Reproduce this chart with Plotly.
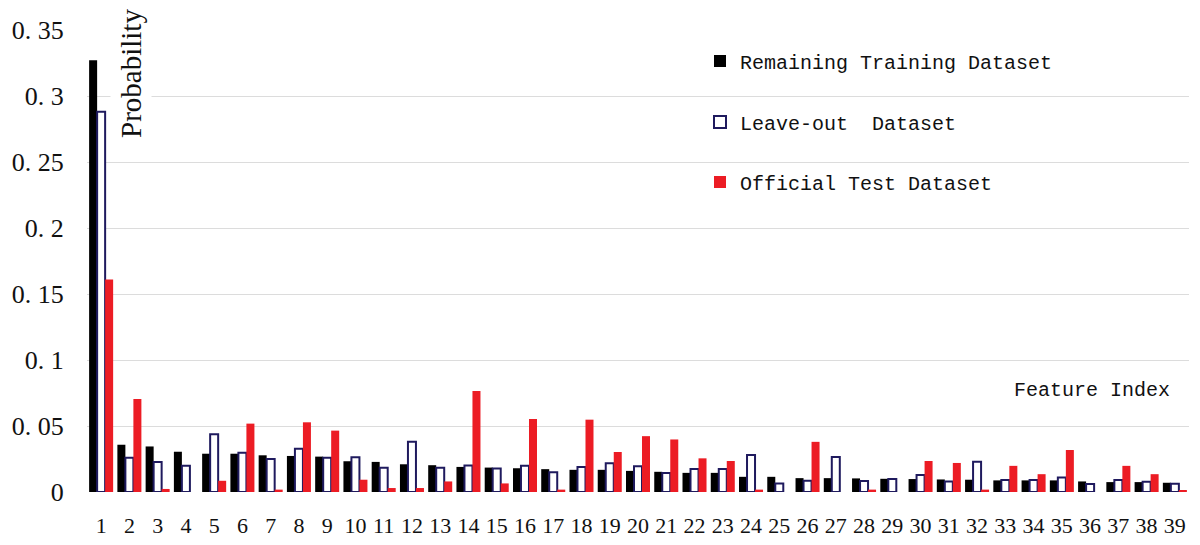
import plotly.graph_objects as go

features = [str(i) for i in range(1, 40)]

remaining_training = [0.327, 0.0358, 0.0345, 0.0305, 0.029, 0.029, 0.0278, 0.0273, 0.0268, 0.0233,
                      0.0228, 0.021, 0.0203, 0.019, 0.0185, 0.018, 0.0173, 0.0168, 0.0168, 0.016,
                      0.0153, 0.0145, 0.0145, 0.0115, 0.0115, 0.0105, 0.0105, 0.0103, 0.010, 0.0098,
                      0.0095, 0.0093, 0.0088, 0.0088, 0.0088, 0.008, 0.0075, 0.0075, 0.007]
leave_out = [0.288, 0.026, 0.0228, 0.0198, 0.0438, 0.0298, 0.025, 0.0328, 0.026, 0.0263,
             0.0183, 0.038, 0.0183, 0.020, 0.0178, 0.0198, 0.015, 0.019, 0.0218, 0.0195,
             0.0143, 0.0175, 0.0175, 0.028, 0.0065, 0.0085, 0.0265, 0.0083, 0.0098, 0.0128,
             0.008, 0.023, 0.009, 0.009, 0.011, 0.006, 0.009, 0.0078, 0.0063]
official_test = [0.161, 0.0705, 0.0023, 0.0, 0.0085, 0.0518, 0.0018, 0.0528, 0.0465, 0.0093,
                 0.003, 0.003, 0.008, 0.0765, 0.0065, 0.0553, 0.0018, 0.0548, 0.0303, 0.0423,
                 0.0398, 0.0255, 0.0235, 0.0018, 0.0, 0.038, 0.0, 0.0018, 0.0, 0.0235,
                 0.022, 0.0018, 0.0198, 0.0135, 0.0318, 0.0, 0.0198, 0.0135, 0.0015]

y_tickvals = [0, 0.05, 0.1, 0.15, 0.2, 0.25, 0.3, 0.35]
y_ticktext = ["0", "0. 05", "0. 1", "0. 15", "0. 2", "0. 25", "0. 3", "0. 35"]

# page offset of the figure div (body margin)
OFF = 8
W, H = 1200 - OFF, 545 - OFF
PL, PR, PT, PB = 87, 1189, 30, 492          # plot area in page pixels
L, R, T, B = PL - OFF, 1200 - PR, PT - OFF, 545 - PB
pw, ph = PR - PL, PB - PT


def px(x):
    return (x - PL) / pw


def py(y):
    return (PB - y) / ph


fig = go.Figure()
fig.add_trace(go.Bar(x=features, y=remaining_training, name="Remaining Training Dataset",
                     marker=dict(color="#000000", line=dict(width=0)), legend="legend"))
fig.add_trace(go.Bar(x=features, y=leave_out, name="Leave-out  Dataset",
                     marker=dict(color="#ffffff", line=dict(color="#1f1a5e", width=2)),
                     legend="legend2"))
fig.add_trace(go.Bar(x=features, y=official_test, name="Official Test Dataset",
                     marker=dict(color="#ec1c24", line=dict(width=0)), legend="legend3"))

legend_common = dict(xref="paper", yref="paper", xanchor="left", yanchor="middle",
                     bgcolor="rgba(0,0,0,0)", borderwidth=0,
                     font=dict(family="Liberation Mono", size=20, color="#111111"))

fig.update_layout(
    width=W, height=H,
    margin=dict(l=L, r=R, t=T, b=B, autoexpand=False),
    paper_bgcolor="white", plot_bgcolor="white",
    barmode="group", bargap=0.15, bargroupgap=0.0,
    showlegend=True,
    legend=dict(x=px(700), y=py(61), **legend_common),
    legend2=dict(x=px(700), y=py(122), **legend_common),
    legend3=dict(x=px(700), y=py(182), **legend_common),
    xaxis=dict(type="category", showgrid=False, zeroline=False, showline=False,
               automargin=False,
               ticks="outside", ticklen=14, tickcolor="rgba(0,0,0,0)",
               tickfont=dict(family="Liberation Serif", size=22, color="#111111")),
    yaxis=dict(range=[0, 0.35], tickvals=y_tickvals, ticktext=y_ticktext,
               automargin=False,
               showgrid=True, gridcolor="#dcdcdc", gridwidth=1, zeroline=False,
               showline=False, ticks="outside", ticklen=17, tickcolor="rgba(0,0,0,0)",
               tickfont=dict(family="Liberation Serif", size=26, color="#111111")),
    shapes=[dict(type="rect", xref="paper", yref="paper", layer="between",
                 x0=px(655), x1=px(1105), y0=py(205), y1=py(36),
                 fillcolor="white", line=dict(width=0))],
    annotations=[
        dict(text="Probability", xref="paper", yref="paper", x=px(131), y=py(74),
             xanchor="center", yanchor="middle", textangle=-90, showarrow=False,
             bgcolor="white", borderpad=4,
             font=dict(family="Liberation Serif", size=29, color="#111111")),
        dict(text="Feature Index", xref="paper", yref="paper", x=px(1172), y=py(390),
             xanchor="right", yanchor="middle", showarrow=False,
             font=dict(family="Liberation Mono", size=20, color="#111111")),
    ],
)

fig.write_html("out.html")
